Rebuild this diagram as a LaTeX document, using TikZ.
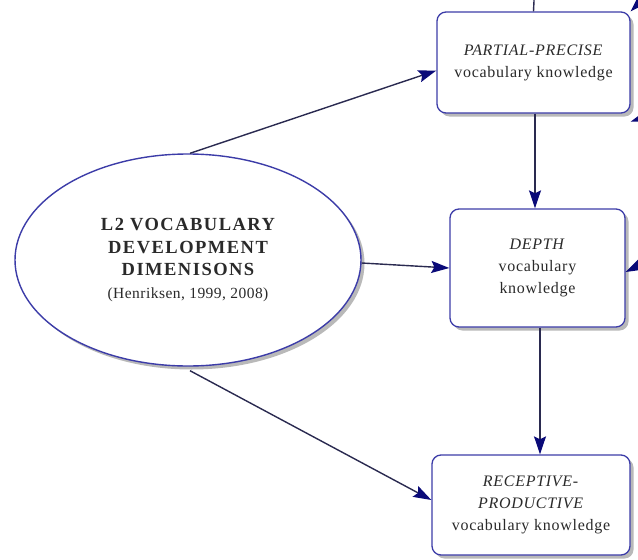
\documentclass[tikz,border=0pt]{standalone}
\usepackage{fontspec}
\setmainfont{Liberation Serif}
\usetikzlibrary{shapes.geometric,shadows,arrows.meta}
\definecolor{edgeblue}{HTML}{3C3CA8}
\definecolor{arrowblue}{HTML}{0A0A78}
\definecolor{linegray}{HTML}{2A2A50}
\definecolor{txt}{HTML}{2A2A2A}
\newcommand{\citefont}{\normalfont\fontsize{15.5}{21}\selectfont\addfontfeature{LetterSpace=3}}
\tikzset{
  shad/.style={drop shadow={shadow xshift=3.5pt,shadow yshift=-3.5pt,fill=gray!55,opacity=1}},
  vbox/.style={draw=edgeblue,line width=1.3pt,rounded corners=9pt,fill=white,shad,
    align=center,text=txt,font=\fontsize{16}{22}\selectfont\addfontfeature{LetterSpace=4.5}},
  ell/.style={ellipse,draw=edgeblue,line width=1.4pt,fill=white,shad,align=center,text=txt,
    font=\fontsize{18.5}{22.5}\selectfont\bfseries\addfontfeature{LetterSpace=8}},
  arr/.style={draw=linegray,line width=1.4pt,-{Stealth[length=18pt,width=12pt,inset=3pt,color=arrowblue]}},
  stub/.style={draw=linegray,line width=1.4pt}
}
\begin{document}
\begin{tikzpicture}[x=1pt,y=-1pt]
\useasboundingbox (0,0) rectangle (638,560);
% outside fragments
\coordinate (topend) at (535,-20);
\coordinate (tr) at (652,-10);
\coordinate (rr) at (660,112);
\coordinate (dr) at (660,255);
\node[ell,minimum width=346pt,minimum height=212pt] (dim) at (188,260)
 {L2 VOCABULARY\\ DEVELOPMENT\\ DIMENISONS\\ \citefont (Henriksen, 1999, 2008)};
\node[vbox,minimum width=193pt,minimum height=101pt] (pp) at (533.5,62.5)
 {\textit{PARTIAL-PRECISE}\\vocabulary knowledge};
\node[vbox,minimum width=175pt,minimum height=118pt] (dp) at (537.5,268)
 {\textit{DEPTH}\\vocabulary\\knowledge};
\node[vbox,minimum width=198pt,minimum height=100pt] (rp) at (531,505)
 {\textit{RECEPTIVE-}\\\textit{PRODUCTIVE}\\vocabulary knowledge};
% connectors
\draw[arr] ([xshift=2pt]dim.north) -- ([yshift=-8pt]pp.west);
\draw[arr] ([yshift=-3pt]dim.east) -- (dp.west);
\draw[arr] ([xshift=2pt,yshift=-4pt]dim.south) -- ([yshift=5pt]rp.west);
\draw[arr] ([xshift=1.5pt]pp.south) -- ([xshift=-2.5pt]dp.north);
\draw[arr] ([xshift=2.5pt]dp.south) -- ([xshift=9pt]rp.north);
% fragments of connectors leaving the frame
\draw[stub] (topend) -- (pp.north);
\draw[arr] (tr) -- (pp.north east);
\draw[arr] (rr) -- ([yshift=-8pt]pp.south east);
\draw[arr] (dr) -- ([yshift=-4pt]dp.east);
\end{tikzpicture}
\end{document}
